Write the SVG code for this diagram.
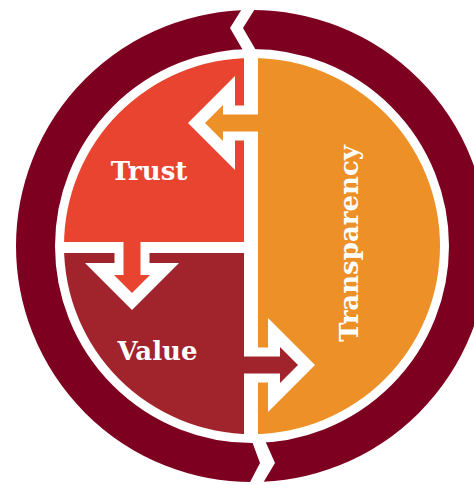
<svg xmlns="http://www.w3.org/2000/svg" xmlns:xlink="http://www.w3.org/1999/xlink" width="474" height="485" viewBox="0 0 474 485">
  <style>
    .label { font-family: "DejaVu Serif", "Liberation Serif", serif; font-weight: bold; font-size: 26px; fill: #ffffff; text-anchor: middle; }
    .gap { fill: #ffffff; }
  </style>
  <defs>
    <clipPath id="disc">
      <circle cx="252" cy="246" r="188"/>
    </clipPath>
    <!-- arrow pointing +x, inner tip at origin; white halo plus a coloured body that inherits fill -->
    <g id="arrow">
      <polygon fill="#ffffff" points="17,0 -30,-47 -30,-17.5 -40,-17.5 -40,17.5 -30,17.5 -30,47"/>
      <polygon points="0,0 -18,-18 -18,-8.5 -63,-8.5 -63,8.5 -18,8.5 -18,18"/>
    </g>
  </defs>

  <rect width="474" height="485" fill="#ffffff"/>

  <!-- outer ring -->
  <g id="ring">
    <circle cx="252" cy="246" r="216.5" fill="none" stroke="#7d0021" stroke-width="39"/>
    <polygon class="gap" points="245,4 258,4 243,28 257,52 244,52 230,28"/>
    <polygon class="gap" points="250,436 263,436 275,463 260,488 247,488 260,463"/>
  </g>

  <g id="trust">
    <rect x="0" y="0" width="244" height="242" fill="#e84430" clip-path="url(#disc)"/>
    <text class="label" x="149" y="180">Trust</text>
  </g>

  <g id="value">
    <rect x="0" y="253" width="244" height="240" fill="#a1232b" clip-path="url(#disc)"/>
    <text class="label" x="157.5" y="360">Value</text>
  </g>

  <g id="transparency">
    <rect x="258" y="0" width="240" height="485" fill="#ed9027" clip-path="url(#disc)"/>
    <text class="label" x="358" y="243.5" transform="rotate(-90 358 243.5)" dominant-baseline="alphabetic">Transparency</text>
  </g>

  <!-- connectors -->
  <g id="connectors">
    <use xlink:href="#arrow" href="#arrow" fill="#ed9027" transform="translate(205,123) rotate(180)"/>
    <use xlink:href="#arrow" href="#arrow" fill="#e84430" transform="translate(132,293) rotate(90)"/>
    <use xlink:href="#arrow" href="#arrow" fill="#a1232b" transform="translate(298,365)"/>
  </g>
</svg>
